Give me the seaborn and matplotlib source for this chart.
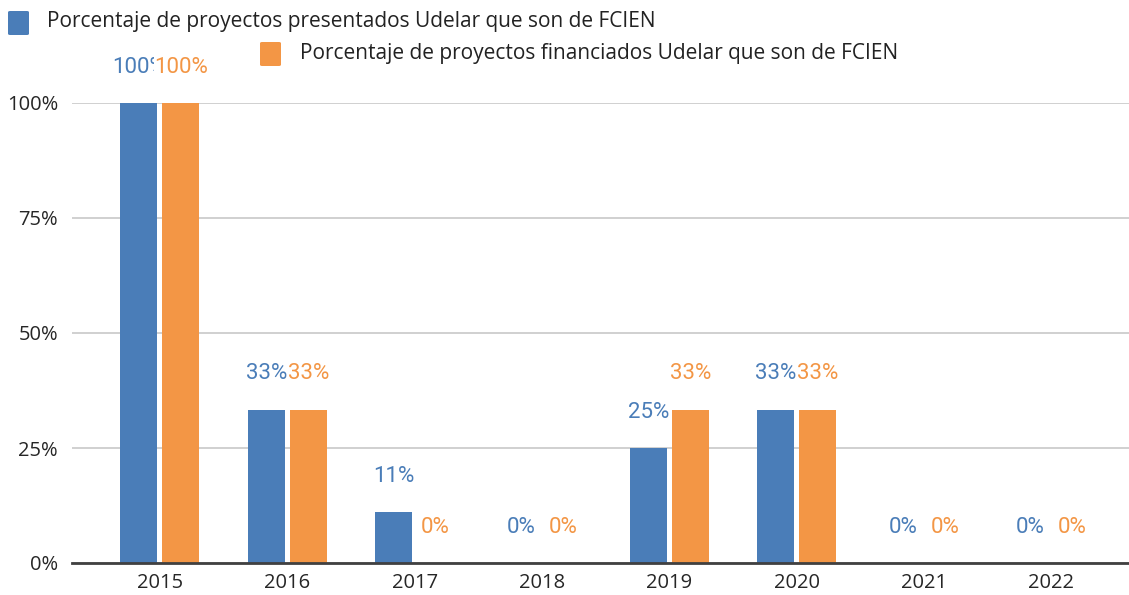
import matplotlib
matplotlib.use("Agg")
import matplotlib.pyplot as plt
import seaborn as sns
import pandas as pd

years = ["2015", "2016", "2017", "2018", "2019", "2020", "2021", "2022"]
presentados = [100, 33.33, 11.11, 0, 25, 33.33, 0, 0]
financiados = [100, 33.33, 0, 0, 33.33, 33.33, 0, 0]
serie_names = ["Porcentaje de proyectos presentados Udelar que son de FCIEN",
               "Porcentaje de proyectos financiados Udelar que son de FCIEN"]
colors = ["#4A7DB8", "#F39645"]

df = pd.DataFrame({
    "year": years * 2,
    "value": presentados + financiados,
    "serie": [serie_names[0]] * len(years) + [serie_names[1]] * len(years),
})

sns.set_style("white")
plt.rcParams["font.family"] = ["Open Sans", "DejaVu Sans"]

fig = plt.figure(figsize=(11.29, 5.95), dpi=100)
ax = fig.add_axes([72 / 1129, 32 / 595, 1057 / 1129, 460 / 595])

sns.barplot(data=df, x="year", y="value", hue="serie", order=years,
            hue_order=serie_names, palette=colors, width=0.66, gap=0.12,
            saturation=1, ax=ax, legend=False, linewidth=0)

ax.set_xlim(-0.69, 7.61)
ax.set_ylim(0, 100)
ax.set_yticks([0, 25, 50, 75, 100])
ax.set_yticklabels(["0%", "25%", "50%", "75%", "100%"])
ax.yaxis.grid(True, color="#C8C8C8", linewidth=1.2)
ax.set_axisbelow(True)
for s in ["top", "right", "left"]:
    ax.spines[s].set_visible(False)
ax.spines["bottom"].set_color("#404040")
ax.spines["bottom"].set_linewidth(2)
ax.tick_params(axis="both", length=0, labelsize=14.5, colors="#262626")
ax.tick_params(axis="x", pad=7)
ax.tick_params(axis="y", pad=10)
ax.set_xlabel("")
ax.set_ylabel("")

# value labels
for ci, cont in enumerate(ax.containers):
    vals = [presentados, financiados][ci]
    for bar, v in zip(cont, vals):
        x = bar.get_x() + bar.get_width() / 2
        y = bar.get_height() + 7.8
        kw = {}
        if ci == 1:
            kw["bbox"] = dict(facecolor="white", edgecolor="none", pad=0)
        ax.text(x, y, f"{round(v)}%", ha="center", va="center",
                fontsize=16, color=colors[ci], family=["Roboto", "DejaVu Sans"],
                clip_on=False, **kw)

# legend
fig.patches.append(matplotlib.patches.FancyBboxPatch(
    (8 / 1129, 1 - 35 / 595), 21 / 1129, 24 / 595, boxstyle="round,pad=0,rounding_size=0.002",
    transform=fig.transFigure, facecolor=colors[0], edgecolor="none"))
fig.text(47 / 1129, 1 - 22 / 595, serie_names[0], fontsize=15, va="center",
         ha="left", color="#222222")
fig.patches.append(matplotlib.patches.FancyBboxPatch(
    (260 / 1129, 1 - 66 / 595), 21 / 1129, 24 / 595, boxstyle="round,pad=0,rounding_size=0.002",
    transform=fig.transFigure, facecolor=colors[1], edgecolor="none"))
fig.text(300 / 1129, 1 - 53 / 595, serie_names[1], fontsize=15, va="center",
         ha="left", color="#222222")

fig.savefig("out.png", dpi=100)
